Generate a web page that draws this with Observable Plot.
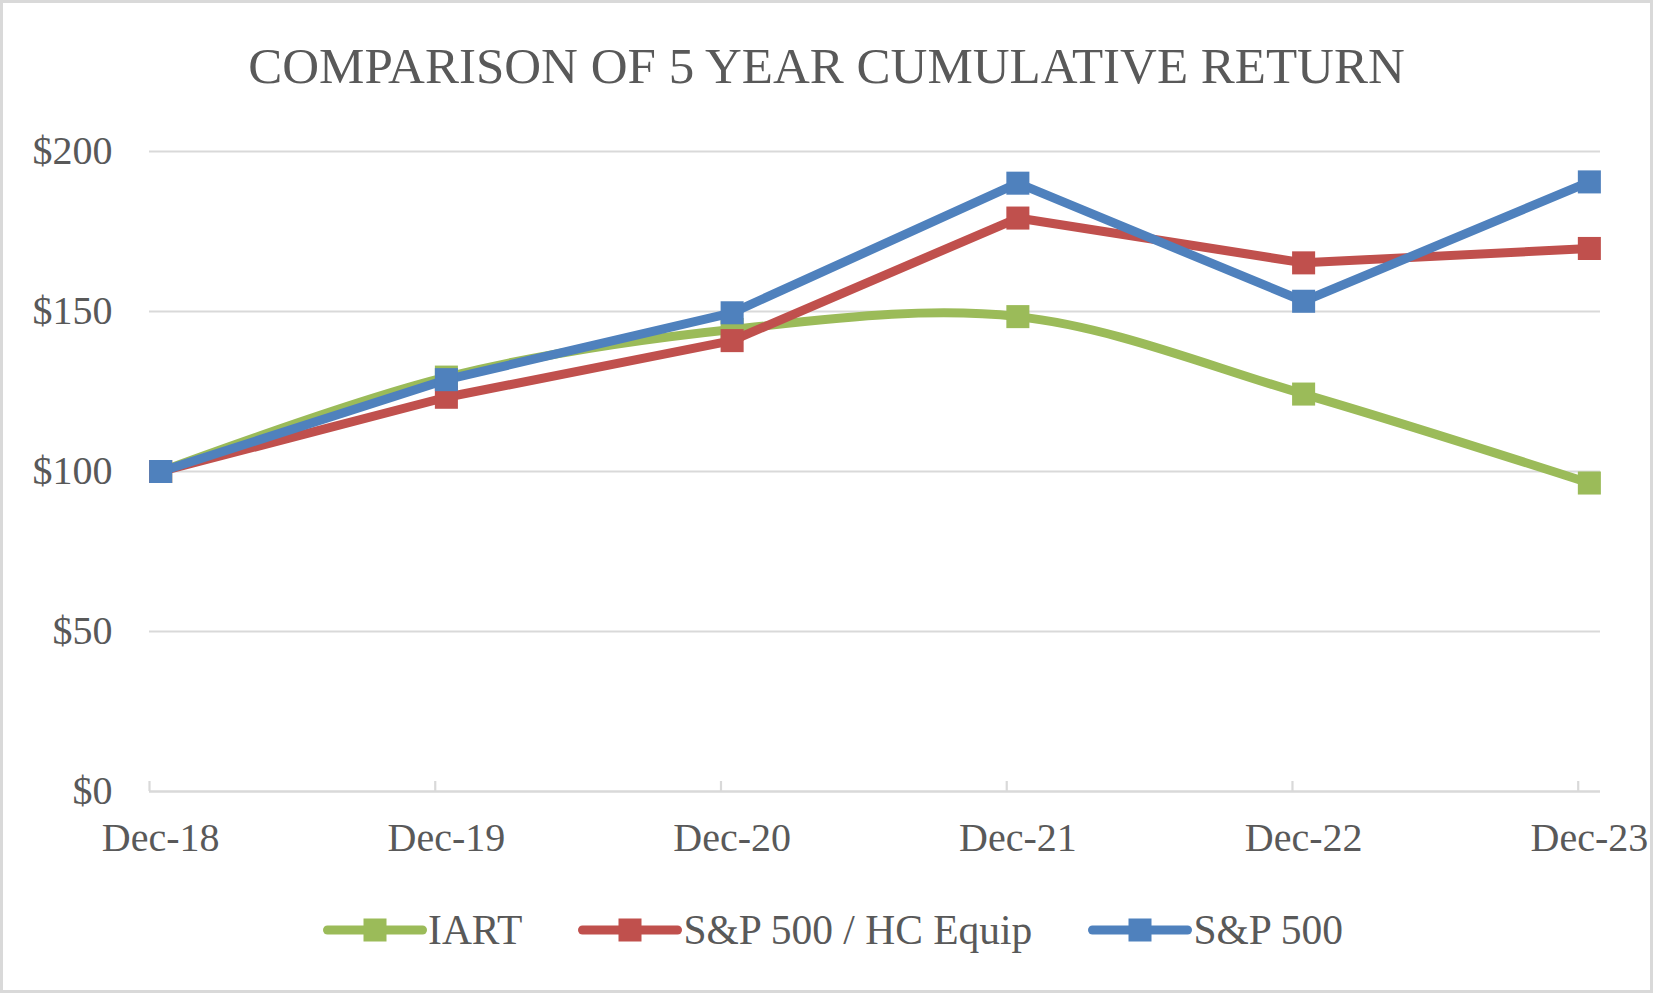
<!DOCTYPE html>
<html>
<head>
<meta charset="utf-8">
<script src="https://cdn.jsdelivr.net/npm/d3@7"></script>
<script src="https://cdn.jsdelivr.net/npm/@observablehq/plot@0.6"></script>
<style>
  html, body { margin: 0; padding: 0; background: #fff; }
  #wrap {
    position: relative; width: 1653px; height: 993px; box-sizing: border-box;
    border: 3px solid #d9d9d9; background: #fff; overflow: hidden;
    font-family: "Liberation Serif", "Times New Roman", serif; color: #595959;
  }
  #title {
    height: 107px; box-sizing: border-box; padding-top: 38px;
    font-size: 51px; line-height: 51px; text-align: center; white-space: nowrap;
  }
  #chart svg { display: block; }
  #legend {
    display: flex; justify-content: center; align-items: center; gap: 56px;
    height: 100px; font-size: 41.5px; line-height: 42px; margin-left: 13px;
  }
  .item { display: flex; align-items: center; white-space: nowrap; }
  .item svg { display: block; margin-right: 1px; }
</style>
</head>
<body>
<div id="wrap">
  <div id="title">COMPARISON OF 5 YEAR CUMULATIVE RETURN</div>
  <div id="chart"></div>
  <div id="legend"></div>
</div>
<script>
// ---- data ----
const categories = ["Dec-18", "Dec-19", "Dec-20", "Dec-21", "Dec-22", "Dec-23"];
const seriesNames = ["IART", "S&P 500 / HC Equip", "S&P 500"];
const iart = [100, 129.5, 144.4, 148.4, 124.2, 96.4];
const hcEquip = [100, 123.2, 140.9, 179.2, 165.2, 169.7];
const sp500 = [100, 128.7, 149.6, 190.1, 153.2, 190.5];
const yTicks = [0, 50, 100, 150, 200];
const colors = ["#9BBB59", "#C0504D", "#4F81BD"];

// ---- build table ----
const seriesValues = [iart, hcEquip, sp500];
const rows = [];
seriesValues.forEach((vals, s) => vals.forEach((v, i) => rows.push({series: seriesNames[s], i, value: v})));
const bySeries = name => rows.filter(r => r.series === name);

const tickOffset = 0.039;
const tickPos = categories.map((c, i) => i - tickOffset);
const catIdx = categories.map((c, i) => ({label: c, i}));

const font = '"Liberation Serif", "Times New Roman", serif';
const lineW = 9;
const markR = 13;

const marks = [
  Plot.ruleY(yTicks.filter(d => d > 0), {stroke: "#d9d9d9", strokeWidth: 2.2}),
  Plot.ruleY([0], {stroke: "#d9d9d9", strokeWidth: 2.5}),
  Plot.ruleX(tickPos, {x: d => d, y1: 0, y2: 0, insetBottom: 10, stroke: "#d9d9d9", strokeWidth: 2.2}),
  Plot.axisY({ticks: yTicks, tickFormat: d => "$" + d, tickSize: 0, tickPadding: 37, label: null, fontSize: 40, fill: "#595959"}),
  Plot.text(catIdx, {x: "i", y: () => 0, text: "label", dy: 59, lineAnchor: "bottom", fontSize: 40, fill: "#595959"})
];
seriesNames.forEach((name, s) => {
  marks.push(Plot.line(bySeries(name), {
    x: "i", y: "value", stroke: colors[s], strokeWidth: lineW,
    curve: s === 0 ? "catmull-rom" : "linear", strokeLinejoin: "round", strokeLinecap: "round"
  }));
  marks.push(Plot.dot(bySeries(name), {x: "i", y: "value", symbol: "square", r: markR, fill: colors[s], stroke: "none"}));
});

const plot = Plot.plot({
  width: 1647,
  height: 770,
  marginLeft: 146,
  marginRight: 50,
  marginTop: 41,
  marginBottom: 89,
  x: {domain: [-tickOffset, categories.length - 1 + tickOffset], axis: null},
  y: {domain: [0, 200], axis: null},
  style: {fontFamily: font, fontSize: "40px", color: "#595959", background: "transparent", overflow: "visible"},
  marks
});
document.getElementById("chart").appendChild(plot);

// ---- legend ----
const legend = d3.select("#legend");
seriesNames.forEach((name, s) => {
  const item = legend.append("div").attr("class", "item");
  const sw = item.append("svg").attr("width", 104).attr("height", 30);
  sw.append("line").attr("x1", 4.5).attr("x2", 99.5).attr("y1", 15).attr("y2", 15)
    .attr("stroke", colors[s]).attr("stroke-width", lineW).attr("stroke-linecap", "round");
  sw.append("rect").attr("x", 52 - 11.5).attr("y", 15 - 11.5).attr("width", 23).attr("height", 23).attr("fill", colors[s]);
  item.append("span").text(name);
});
</script>
</body>
</html>
